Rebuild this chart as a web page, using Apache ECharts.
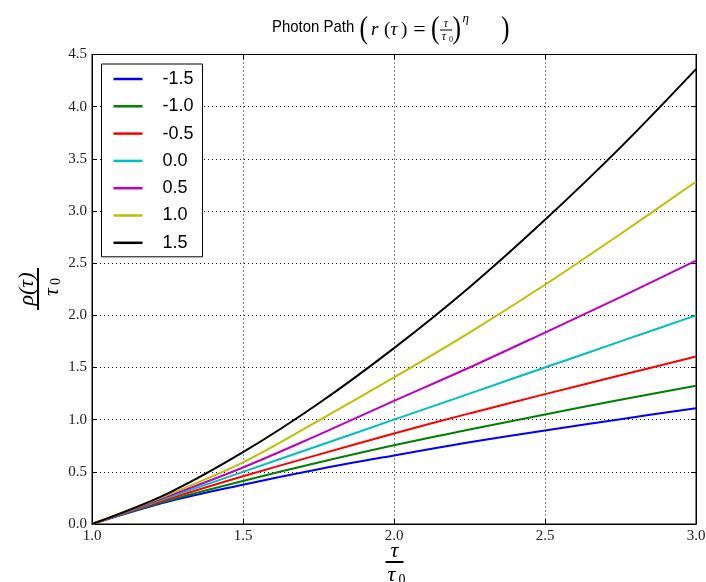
<!DOCTYPE html>
<html>
<head>
<meta charset="utf-8">
<script src="https://cdn.jsdelivr.net/npm/echarts@6/dist/echarts.min.js"></script>
<style>
html,body{margin:0;padding:0;background:#fff;overflow:hidden;}
#chart{width:706px;height:582px;}
</style>
</head>
<body>
<div id="chart"></div>
<script>
// ---- data ----
const tauValues = [1.0, 1.25, 1.5, 1.75, 2.0, 2.25, 2.5, 2.75, 3.0];
const etaLabels = ['-1.5', '-1.0', '-0.5', '0.0', '0.5', '1.0', '1.5'];
const etaM15 = [0, 0.213, 0.377, 0.525, 0.657, 0.783, 0.897, 1.005, 1.11];
const etaM10 = [0, 0.222, 0.412, 0.59, 0.755, 0.905, 1.05, 1.19, 1.325];
const etaM05 = [0, 0.236, 0.457, 0.665, 0.868, 1.06, 1.245, 1.425, 1.606];
const eta00  = [0, 0.25, 0.5, 0.75, 1.0, 1.25, 1.5, 1.75, 2.0];
const eta05  = [0, 0.264, 0.542, 0.855, 1.18, 1.50, 1.835, 2.175, 2.525];
const eta10  = [0, 0.278, 0.59, 0.99, 1.405, 1.835, 2.293, 2.78, 3.28];
const eta15  = [0, 0.292, 0.688, 1.155, 1.686, 2.27, 2.916, 3.61, 4.36];
const xTicks = { min: 1.0, max: 3.0, step: 0.5 };
const yTicks = { min: 0.0, max: 4.5, step: 0.5 };

const seriesValues = [etaM15, etaM10, etaM05, eta00, eta05, eta10, eta15];
const seriesColors = ['#0000ff', '#008000', '#ff0000', '#00bfbf', '#bf00bf', '#bfbf00', '#000000'];

const SERIF = 'Liberation Serif';
const SANS = 'Liberation Sans';
const tickLabel = { fontFamily: SERIF, fontSize: 15, color: '#222' };

function txt(x, y, text, font, align, extra) {
  return Object.assign({
    type: 'text', x: x, y: y, silent: true,
    style: { text: text, font: font, fill: '#000', textAlign: align || 'left', textVerticalAlign: 'middle' }
  }, extra || {});
}
function hline(x1, x2, y, w) {
  return { type: 'line', silent: true, shape: { x1: x1, y1: y, x2: x2, y2: y }, style: { stroke: '#000', lineWidth: w } };
}

const chart = echarts.init(document.getElementById('chart'), null, { renderer: 'canvas' });

const axisCommon = {
  axisLine: { show: true, onZero: false, lineStyle: { color: '#000', width: 1 } },
  axisTick: { show: true, inside: true, length: 5, lineStyle: { color: '#000', width: 1 } }
};
const gridLine = { show: true, lineStyle: { type: [1, 3], color: '#111', width: 1 } };

const option = {
  animation: false,
  backgroundColor: '#fff',
  grid: {
    left: 92, right: 10, top: 54.5, bottom: 58,
    containLabel: false, outerBoundsMode: 'none',
    show: true, borderColor: '#000', borderWidth: 1, backgroundColor: 'transparent'
  },
  legend: {
    data: etaLabels,
    orient: 'vertical',
    left: 101.5, top: 64,
    padding: [5, 9, 4, 12],
    itemGap: 7.3,
    itemWidth: 29, itemHeight: 2.5,
    icon: 'rect',
    borderColor: '#000', borderWidth: 1, borderRadius: 0,
    backgroundColor: '#fff',
    textStyle: { fontFamily: SANS, fontSize: 18, color: '#000', lineHeight: 20, padding: [0, 0, 0, 15] }
  },
  xAxis: [
    Object.assign({
      type: 'value', min: xTicks.min, max: xTicks.max, interval: xTicks.step,
      axisLabel: Object.assign({ margin: 5, formatter: v => v.toFixed(1) }, tickLabel),
      splitLine: gridLine
    }, axisCommon),
    Object.assign({
      type: 'value', position: 'top', min: xTicks.min, max: xTicks.max, interval: xTicks.step,
      axisLabel: { show: false }, splitLine: { show: false }
    }, axisCommon)
  ],
  yAxis: [
    Object.assign({
      type: 'value', min: yTicks.min, max: yTicks.max, interval: yTicks.step,
      axisLabel: Object.assign({ margin: 5, formatter: v => v.toFixed(1) }, tickLabel),
      splitLine: gridLine
    }, axisCommon),
    Object.assign({
      type: 'value', position: 'right', min: yTicks.min, max: yTicks.max, interval: yTicks.step,
      axisLabel: { show: false }, splitLine: { show: false }
    }, axisCommon)
  ],
  series: etaLabels.map((name, k) => ({
    name: name,
    type: 'line',
    xAxisIndex: 0, yAxisIndex: 0,
    data: tauValues.map((t, i) => [t, seriesValues[k][i]]),
    symbol: 'none', showSymbol: false,
    smooth: 0.35,
    color: seriesColors[k],
    lineStyle: { color: seriesColors[k], width: 2 },
    itemStyle: { color: seriesColors[k] },
    emphasis: { disabled: true },
    z: 2 + k
  })),
  graphic: [
    // title
    txt(272, 27, 'Photon Path', '17px ' + SANS, 'left', { scaleX: 0.88 }),
    txt(359.5, 30, '(', '32px ' + SERIF, 'left', { scaleX: 0.8 }),
    txt(371, 30, 'r', 'italic 19px ' + SERIF),
    txt(384, 30, '(', '19px ' + SERIF),
    txt(390.5, 30, 'τ', 'italic 19px ' + SERIF),
    txt(401, 30, ')', '19px ' + SERIF),
    txt(419.5, 30, '=', '22px ' + SERIF, 'center'),
    txt(431, 30, '(', '32px ' + SERIF, 'left', { scaleX: 0.8 }),
    txt(446, 24, 'τ', 'italic 12px ' + SERIF, 'center'),
    hline(440, 452, 30, 1),
    txt(444, 37, 'τ', 'italic 12px ' + SERIF, 'center'),
    txt(449, 39.5, '0', '8px ' + SERIF, 'left'),
    txt(452.5, 30, ')', '32px ' + SERIF, 'left', { scaleX: 0.8 }),
    txt(462.5, 19, 'η', 'italic 13px ' + SERIF, 'left'),
    txt(501, 30, ')', '32px ' + SERIF, 'left', { scaleX: 0.8 }),
    // x-axis label
    txt(394.5, 551, 'τ', 'italic 22px ' + SERIF, 'center'),
    hline(385.5, 403.5, 562, 2),
    txt(391.5, 575, 'τ', 'italic 22px ' + SERIF, 'center'),
    txt(398.5, 580, '0', '14px ' + SERIF, 'left'),
    // y-axis label (rotated)
    {
      type: 'group', x: 38, y: 289, rotation: Math.PI / 2, silent: true,
      children: [
        txt(0, -11, 'ρ(τ)', 'italic 22px ' + SERIF, 'center'),
        hline(-21, 21, 0, 2),
        txt(-3, 14, 'τ', 'italic 22px ' + SERIF, 'center'),
        txt(4, 18, '0', '14px ' + SERIF, 'left')
      ]
    }
  ]
};
chart.setOption(option);
</script>
</body>
</html>
